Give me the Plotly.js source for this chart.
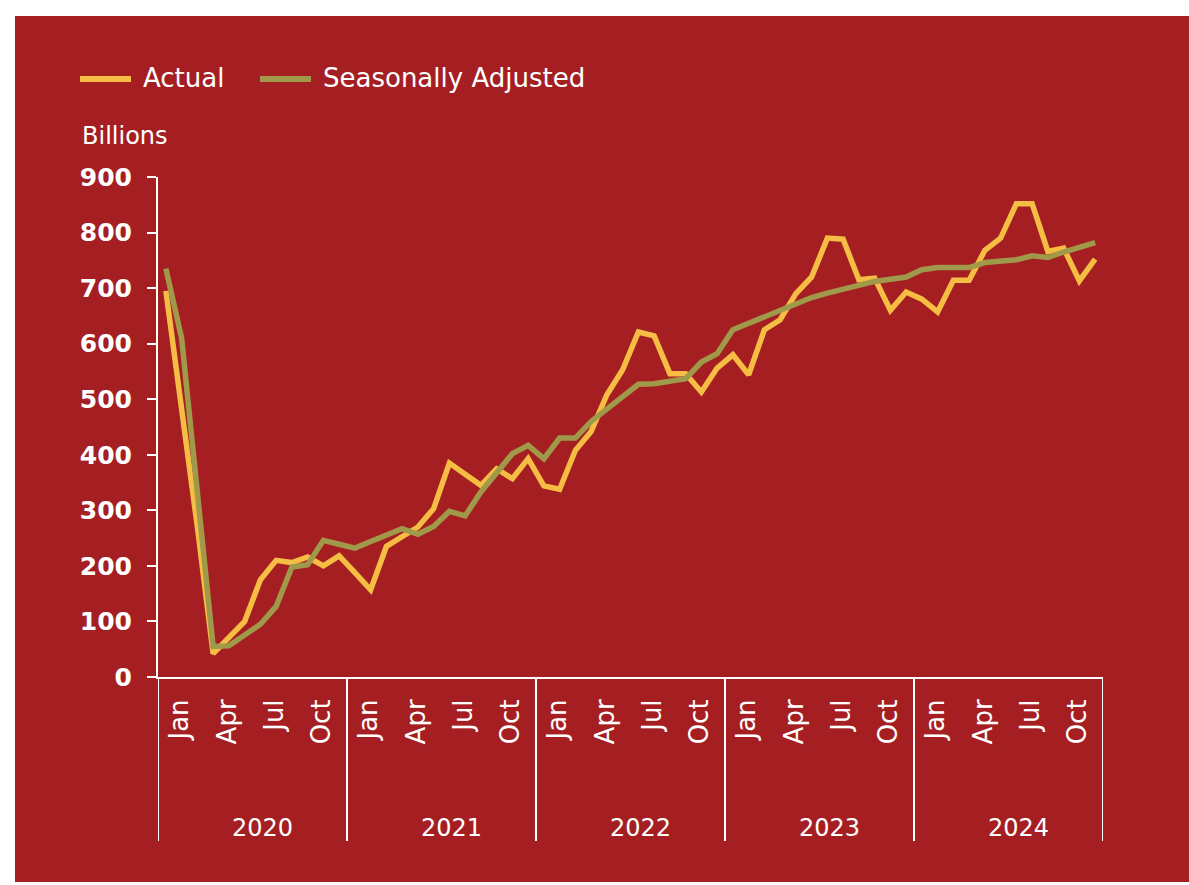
<!DOCTYPE html>
<html>
<head>
<meta charset="utf-8">
<script src="https://cdn.plot.ly/plotly-3.0.1.min.js"></script>
<style>html,body{margin:0;padding:0;background:#fff;}#chart{width:1189px;height:885px;}</style>
</head>
<body>
<div id="chart"></div>
<script>
// ---- DATA ----
const years = ['2020', '2021', '2022', '2023', '2024'];
const months = ['Jan','Feb','Mar','Apr','May','Jun','Jul','Aug','Sep','Oct','Nov','Dec'];
const labelledMonths = ['Jan', 'Apr', 'Jul', 'Oct'];
const yTicks = [0, 100, 200, 300, 400, 500, 600, 700, 800, 900];

const actual2020 = [695, 485, 270, 42, 70, 100, 175, 210, 206, 216, 200, 218];
const actual2021 = [188, 157, 235, 252, 270, 303, 385, 365, 345, 375, 357, 393];
const actual2022 = [344, 338, 408, 442, 508, 553, 621, 614, 546, 546, 513, 556];
const actual2023 = [580, 544, 625, 643, 690, 720, 790, 788, 715, 718, 660, 693];
const actual2024 = [680, 657, 714, 714, 768, 790, 852, 852, 766, 772, 713, 752];

const sa2020 = [735, 610, 332, 55, 56, 76, 95, 127, 198, 202, 246, 239];
const sa2021 = [232, 244, 256, 267, 257, 271, 298, 290, 333, 367, 402, 417];
const sa2022 = [393, 430, 430, 460, 483, 506, 527, 528, 532, 537, 567, 582];
const sa2023 = [625, 637, 649, 661, 673, 683, 691, 698, 705, 712, 716, 720];
const sa2024 = [733, 737, 737, 737, 746, 748, 751, 758, 755, 765, 773, 782];

// ---- BUILD ----
const actual = [].concat(actual2020, actual2021, actual2022, actual2023, actual2024);
const seasonal = [].concat(sa2020, sa2021, sa2022, sa2023, sa2024);
const xIdx = actual.map((_, i) => i);

const tickvals = [], ticktext = [];
years.forEach((y, yi) => months.forEach((m, mi) => {
  if (labelledMonths.includes(m)) { tickvals.push(yi * 12 + mi); ticktext.push(m); }
}));

const RED = '#A51F22';
const YELLOW = '#F5BD43';
const OLIVE = '#A0994A';
const FONT = 'DejaVu Sans, Open Sans, sans-serif';

const W = 1189, H = 885;
const L = 158, R = 86, T = 177, B = 208;
const pw = W - L - R, ph = H - T - B;
const px = v => (v - L) / pw;          // page x -> paper x
const py = v => (H - B - v) / ph;      // page y -> paper y

const traces = [
  { x: xIdx, y: actual, type: 'scatter', mode: 'lines', name: 'Actual',
    line: { color: YELLOW, width: 5.5 }, hoverinfo: 'y' },
  { x: xIdx, y: seasonal, type: 'scatter', mode: 'lines', name: 'Seasonally Adjusted',
    line: { color: OLIVE, width: 5.5 }, hoverinfo: 'y' }
];

const shapes = [
  { type: 'rect', xref: 'paper', yref: 'paper', x0: px(15), x1: px(1189), y0: py(882), y1: py(16),
    fillcolor: RED, line: { width: 0 }, layer: 'below' }
];
// year dividers
for (let k = 0; k <= years.length; k++) {
  shapes.push({ type: 'line', xref: 'x', yref: 'paper', x0: k * 12 - 0.5, x1: k * 12 - 0.5,
    y0: 0, y1: py(841), line: { color: '#ffffff', width: 2 } });
}
// legend lines
shapes.push({ type: 'line', xref: 'paper', yref: 'paper', x0: px(80), x1: px(131), y0: py(79), y1: py(79),
  line: { color: YELLOW, width: 6 } });
shapes.push({ type: 'line', xref: 'paper', yref: 'paper', x0: px(260), x1: px(311), y0: py(79), y1: py(79),
  line: { color: OLIVE, width: 6 } });

const annotations = years.map((y, k) => ({
  x: k * 12 + 5.5, xref: 'x', y: py(828), yref: 'paper', text: y, showarrow: false,
  xshift: 10, xanchor: 'center', yanchor: 'middle', font: { family: FONT, size: 24, color: '#ffffff' }
}));
annotations.push({ x: px(80), y: py(136), xref: 'paper', yref: 'paper', text: 'Billions', showarrow: false,
  xanchor: 'left', yanchor: 'middle', font: { family: FONT, size: 24, color: '#ffffff' } });
annotations.push({ x: px(141), y: py(78), xref: 'paper', yref: 'paper', text: 'Actual', showarrow: false,
  xanchor: 'left', yanchor: 'middle', font: { family: FONT, size: 26, color: '#ffffff' } });
annotations.push({ x: px(321), y: py(78), xref: 'paper', yref: 'paper', text: 'Seasonally Adjusted', showarrow: false,
  xanchor: 'left', yanchor: 'middle', font: { family: FONT, size: 26, color: '#ffffff' } });

const layout = {
  width: W, height: H, autosize: false,
  margin: { l: L, r: R, t: T, b: B, pad: 0 },
  paper_bgcolor: '#ffffff', plot_bgcolor: RED,
  showlegend: false,
  font: { family: FONT, color: '#ffffff' },
  xaxis: {
    type: 'linear', range: [-0.5, 59.5], showgrid: false, zeroline: false,
    showline: true, linecolor: '#ffffff', linewidth: 2,
    tickmode: 'array', tickvals: tickvals, ticktext: ticktext, tickangle: -90,
    ticks: '', ticklabelstandoff: 10, ticklabelshift: 14,
    tickfont: { family: FONT, size: 26, color: '#ffffff' }, fixedrange: true
  },
  yaxis: {
    range: [0, 900], showgrid: false, zeroline: false,
    showline: true, linecolor: '#ffffff', linewidth: 2,
    tickmode: 'array', tickvals: yTicks,
    ticks: 'outside', ticklen: 9, tickwidth: 2, tickcolor: '#ffffff',
    ticklabelstandoff: 10,
    tickfont: { family: FONT, size: 25, color: '#ffffff', weight: 'bold' }, fixedrange: true
  },
  shapes: shapes,
  annotations: annotations
};

Plotly.newPlot('chart', traces, layout, { displayModeBar: false, staticPlot: true });
</script>
</body>
</html>
